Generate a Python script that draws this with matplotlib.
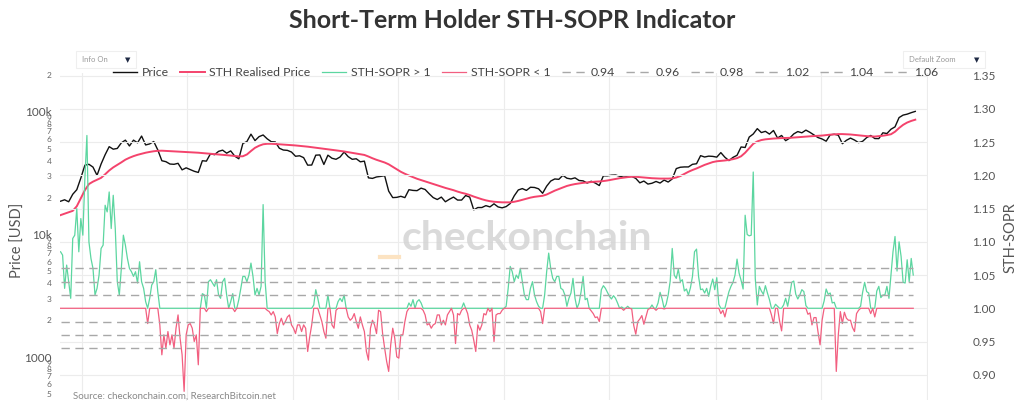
import numpy as np
import pandas as pd
import matplotlib
matplotlib.use("Agg")
import matplotlib.pyplot as plt
import matplotlib.dates as mdates
import matplotlib.ticker as mticker
from matplotlib.lines import Line2D
from matplotlib.patches import Rectangle

plt.rcParams["font.family"] = ["Lato", "DejaVu Sans"]

# weekly BTC price (thousand USD), from 2020-11-25
price_k = [
    18.7, 19.2, 18.5, 21.3, 23.2, 28.9,
    36.8, 37.4, 35.5, 30.4, 37.6, 44.8, 52.1, 49.7, 50.4, 56.0, 58.9, 52.8, 58.9,
    56.0, 63.6, 53.8, 54.9, 57.4, 49.0, 40.0, 39.3, 37.6, 37.4, 38.1, 33.7, 35.0,
    33.9, 32.8, 32.1, 40.0, 39.7, 45.6, 44.8, 47.7, 48.8, 46.1, 48.1, 43.6, 41.5,
    55.3, 57.4, 65.9, 58.4, 62.9, 64.9, 60.4, 57.2, 57.0, 50.6, 48.9, 48.6, 47.1,
    43.5, 43.9, 42.4, 36.8, 36.9, 44.4, 44.6, 37.3, 44.4, 41.9, 41.1, 42.9, 47.1,
    43.2, 41.1, 41.5, 39.2, 39.7, 29.0, 28.7, 29.5, 29.8, 30.2, 22.6, 20.0, 20.1,
    20.5, 20.0, 23.2, 22.9, 22.8, 23.9, 23.3, 21.5, 20.0, 19.3, 20.2, 18.5, 19.4,
    20.2, 19.1, 19.1, 20.8, 20.2, 15.9, 16.6, 16.6, 17.2, 16.8, 17.8, 16.8, 16.5,
    16.9, 17.9, 20.7, 23.1, 23.7, 22.9, 24.3, 24.2, 23.6, 21.7, 24.8, 27.3, 28.4,
    28.2, 30.4, 28.8, 28.4, 29.0, 27.6, 27.4, 26.3, 27.2, 26.3, 25.1, 30.1, 30.1,
    30.5, 30.6, 29.9, 29.4, 29.7, 29.8, 28.7, 26.4, 27.3, 25.8, 26.2, 27.1, 26.3,
    27.8, 26.8, 28.4, 34.5, 35.4, 35.6, 35.6, 37.4, 37.8, 44.0, 42.9, 43.6, 43.4,
    42.8, 46.6, 42.7, 40.1, 42.6, 44.3, 51.8, 51.3, 62.4, 66.1, 73.1, 67.9, 69.5,
    66.0, 70.6, 61.3, 64.3, 58.3, 61.2, 66.2, 69.2, 67.6, 71.1, 68.2, 65.0, 61.8,
    60.2, 57.7, 65.1, 65.8, 64.6, 55.1, 58.7, 61.2, 59.0, 56.2, 57.6, 61.8, 64.3,
    60.7, 60.6, 67.6, 66.7, 72.3, 75.6, 90.0, 94.3, 96.0, 98.7, 101.1,
]

# weekly STH realised price (thousand USD)
realised_k = [
    14.4, 14.8, 15.2, 15.6, 17.0, 19.8,
    23.0, 25.8, 27.0, 28.0, 29.0, 31.0, 33.3, 35.3, 37.0, 38.8, 40.8, 42.3, 43.6,
    44.7, 45.6, 46.5, 47.2, 47.8, 48.2, 48.3, 48.1, 47.9, 47.7, 47.5, 47.3, 47.1,
    46.9, 46.7, 46.5, 46.2, 45.9, 45.6, 45.3, 45.0, 44.7, 44.4, 44.1, 43.7, 43.4,
    43.5, 45.0, 48.0, 51.0, 53.0, 54.5, 55.0, 55.0, 54.8, 54.5, 54.2, 53.9, 53.6,
    53.3, 52.9, 52.5, 52.1, 51.6, 51.1, 50.6, 50.1, 49.6, 49.1, 48.6, 48.1, 47.6,
    47.0, 46.4, 45.8, 45.2, 44.6, 43.3, 41.9, 40.7, 39.7, 38.7, 37.4, 35.7, 34.0,
    32.5, 31.3, 30.3, 29.4, 28.5, 27.8, 27.1, 26.4, 25.8, 25.2, 24.6, 24.0, 23.5,
    23.0, 22.4, 21.9, 21.5, 21.0, 20.4, 19.9, 19.4, 19.0, 18.7, 18.5, 18.4, 18.3,
    18.3, 18.3, 18.5, 18.8, 19.2, 19.6, 20.0, 20.3, 20.5, 20.7, 21.2, 22.0, 22.8,
    23.5, 24.2, 24.9, 25.4, 25.8, 26.1, 26.4, 26.6, 26.8, 27.0, 27.1, 27.3, 27.6,
    28.0, 28.4, 28.8, 29.1, 29.4, 29.6, 29.6, 29.4, 29.2, 29.0, 28.8, 28.7, 28.6,
    28.6, 28.6, 28.7, 29.2, 30.0, 31.2, 32.5, 33.6, 34.6, 35.8, 37.0, 38.0, 39.0,
    39.6, 39.9, 40.2, 40.6, 41.2, 42.0, 43.5, 46.5, 50.5, 55.0, 57.5, 59.0, 59.8,
    60.3, 60.7, 61.0, 61.2, 61.3, 61.5, 61.8, 62.2, 62.6, 63.0, 63.3, 63.6, 63.8,
    64.2, 64.8, 65.3, 65.7, 66.0, 66.0, 65.8, 65.5, 65.0, 64.5, 64.0, 63.5, 63.2,
    63.0, 63.5, 64.0, 64.8, 65.8, 69.0, 74.0, 78.5, 82.0, 84.5, 86.5,
]

# STH-SOPR, every 3.5 days from 2020-11-25
sopr_vals = [
    1.085, 1.080, 1.030, 1.065, 1.040, 1.015, 1.105, 1.110, 1.150, 1.085,
    1.135, 1.110, 1.196, 1.260, 1.100, 1.075, 1.060, 1.020, 1.030, 1.050,
    1.090, 1.095, 1.155, 1.145, 1.175, 1.120, 1.170, 1.120, 1.040, 1.020,
    1.060, 1.110, 1.095, 1.075, 1.060, 1.055, 1.048, 1.055, 1.038, 1.070,
    1.040, 1.030, 1.010, 0.977, 1.015, 1.035, 1.040, 1.058, 1.025, 0.975,
    0.930, 0.960, 0.940, 0.965, 0.945, 0.960, 0.940, 0.970, 0.990, 0.955,
    0.930, 0.875, 0.960, 0.975, 0.977, 0.970, 0.950, 0.960, 0.915, 1.000,
    1.022, 1.020, 0.995, 1.040, 1.043, 1.038, 1.033, 1.043, 1.020, 1.015,
    1.040, 1.045, 1.020, 1.000, 1.010, 1.022,
    0.995, 1.000, 1.013, 1.030, 1.048, 1.048, 1.040, 1.050, 1.068, 1.048,
    1.020, 1.030, 1.020, 1.033, 1.156, 1.040, 0.997, 0.995, 0.990, 0.995,
    0.987, 0.962, 0.977, 0.985, 0.975, 0.980, 0.987, 0.990, 0.975, 0.970,
    0.962, 0.975, 0.975, 0.965, 0.975, 0.970, 0.935, 0.957, 0.975, 1.005,
    1.028, 1.015, 0.990, 0.980, 0.965, 0.955, 1.020, 1.000, 0.975, 0.970,
    0.997, 1.010, 1.015, 1.010, 1.020, 1.000, 0.987, 0.982, 0.985, 0.992,
    0.980, 0.970, 0.987, 0.975, 0.965, 0.935, 0.922, 0.970, 0.982, 0.975,
    0.962, 0.997, 0.995, 0.962, 0.940, 0.920, 0.905, 0.945, 0.970, 0.955,
    0.927, 0.925, 0.960,
    0.960, 0.980, 0.995, 1.008, 1.003, 1.013, 1.000, 1.010, 1.013, 1.008,
    0.997, 0.990, 0.975, 0.977, 0.970, 0.975, 0.977, 0.990, 0.990, 0.975,
    0.982, 0.975, 0.990, 0.995, 1.000, 0.990, 0.947, 0.992, 0.990, 0.997,
    1.008, 1.000, 0.992, 0.975, 0.967, 0.952, 0.935, 0.975, 0.967, 0.975,
    0.992, 0.990, 1.000, 0.995, 1.000, 0.950, 0.990, 0.992, 0.992, 0.997,
    1.000, 1.003, 1.030, 1.063, 1.055, 1.040, 1.050, 1.045, 1.060, 1.040,
    1.020, 1.013, 1.013, 1.030, 1.040, 1.020, 1.010, 1.003, 0.995, 0.977,
    1.020, 1.055, 1.083, 1.060, 1.045, 1.040, 1.048, 1.048, 1.030, 1.028,
    1.020, 1.003, 1.015,
    1.023, 1.045, 1.015, 1.000, 1.008, 1.025, 1.048, 1.013, 1.015, 1.000,
    0.996, 0.992, 0.986, 0.987, 0.980, 1.028, 1.034, 1.030, 1.024, 1.018,
    1.014, 1.019, 1.015, 1.008, 1.000, 1.002, 0.997, 1.000, 1.003, 1.000,
    0.999, 0.974, 0.961, 0.980, 0.984, 0.989, 0.976, 0.987, 0.998, 1.000,
    1.005, 1.000, 0.997, 1.008, 1.024, 1.014, 0.999, 1.006, 1.020, 1.041,
    1.090, 1.050, 1.045, 1.059, 1.040, 1.043, 1.026, 1.029, 1.020, 1.031,
    1.048, 1.085, 1.089, 1.048, 1.028, 1.029, 1.023, 1.030, 1.018, 1.033,
    1.044, 1.028, 1.046, 1.006, 0.992, 0.997, 0.987, 1.013, 1.025, 1.033,
    1.039, 1.050, 1.074, 1.053,
    1.042, 1.029, 1.140, 1.111, 1.109, 1.110, 1.205, 1.045, 1.005, 1.033,
    1.026, 1.021, 1.034, 1.023, 1.013, 0.990, 0.977, 1.006, 1.003, 0.981,
    0.966, 1.005, 1.015, 1.003, 1.020, 1.039, 1.041, 1.021, 1.014, 1.020,
    1.028, 1.025, 1.004, 0.991, 0.993, 0.975, 0.986, 0.986, 0.964, 0.945,
    0.982, 1.011, 1.029, 1.021, 1.023, 1.008, 1.009, 0.905, 0.960, 0.995,
    0.977, 0.994, 0.985, 0.982, 0.982, 0.971, 0.965, 0.992, 0.997, 1.003,
    1.024, 1.039, 1.025, 1.023, 0.992, 1.000, 0.987, 1.026, 1.033, 1.016,
    1.020, 1.020, 1.033, 1.015, 1.050, 1.085, 1.108, 1.056, 1.100, 1.078,
    1.039, 1.038, 1.073, 1.040, 1.075, 1.050,
]

band_levels = [0.94, 0.96, 0.98, 1.02, 1.04, 1.06]

weeks = pd.date_range("2020-11-25", periods=len(price_k), freq="7D")
sopr_days = pd.date_range("2020-11-25", periods=len(sopr_vals), freq="84h")

price = np.array(price_k) * 1000
realised = np.array(realised_k) * 1000
sopr = np.array(sopr_vals)
sopr_up = np.maximum(sopr, 1.0)
sopr_down = np.minimum(sopr, 1.0)

fig = plt.figure(figsize=(10.24, 4.08), dpi=100)
ax = fig.add_axes([60 / 1024, 8 / 408, 868 / 1024, 327 / 408])
ax2 = ax.twinx()

ax.plot(weeks, price, color="#111111", lw=1.0, label="Price")
ax.plot(weeks, realised, color="#f4436c", lw=1.4, label="STH Realised Price")
ax2.plot(sopr_days, sopr_up, color="#5cd6a0", lw=0.9, label="STH-SOPR > 1")
ax2.plot(sopr_days, sopr_down, color="#f25f80", lw=0.9, label="STH-SOPR < 1")
for lvl in band_levels:
    ax2.hlines(lvl, sopr_days[0], sopr_days[-1], color="#a8a8a8", lw=1.0,
               linestyles=(0, (6, 4)), label=f"{lvl:.2f}")

# left axis: log price
ax.set_yscale("log")
ax.set_ylim(446, 208000)
ax.yaxis.set_major_locator(mticker.LogLocator(base=10, numticks=10))
ax.yaxis.set_minor_locator(mticker.LogLocator(base=10, subs=np.arange(2, 10), numticks=20))
ax.yaxis.set_major_formatter(mticker.FuncFormatter(
    lambda v, p: f"{int(round(v / 1000))}k" if v >= 10000 else f"{int(round(v))}"))
ax.yaxis.set_minor_formatter(mticker.FuncFormatter(
    lambda v, p: f"{int(round(v / 10 ** np.floor(np.log10(v) + 1e-9)))}"))
ax.tick_params(axis="y", which="major", labelsize=8.5, length=0, pad=6, labelcolor="#555555")
ax.tick_params(axis="y", which="minor", labelsize=6, length=0, pad=6, labelcolor="#666666")

ax.set_xlim(pd.Timestamp("2020-11-24"), pd.Timestamp("2025-01-02"))
ax.xaxis.set_major_locator(mdates.MonthLocator(bymonth=[1, 7]))
ax.tick_params(axis="x", labelbottom=False, length=0)
ax.grid(axis="x", color="#ececec", lw=0.8)

# right axis: SOPR
ax2.set_ylim(0.862, 1.354)
ax2.yaxis.set_major_locator(mticker.MultipleLocator(0.05))
ax2.yaxis.set_major_formatter(mticker.FormatStrFormatter("%.2f"))
ax2.tick_params(axis="y", labelsize=8.5, length=0, pad=32, labelcolor="#555555")
ax2.grid(axis="y", color="#ececec", lw=0.8)
ax2.set_axisbelow(True)

for a in (ax, ax2):
    for s in a.spines.values():
        s.set_visible(False)

# legend
h1, lab1 = ax.get_legend_handles_labels()
h2, lab2 = ax2.get_legend_handles_labels()
fig.legend(h1 + h2, lab1 + lab2, loc="center", bbox_to_anchor=(0.513, 1 - 73 / 408),
           ncol=10, frameon=False, fontsize=8.8, handlelength=2.0, columnspacing=0.9,
           handletextpad=0.4, labelcolor="#444444")

# texts
fig.text(0.5, 1 - 20 / 408, "Short-Term Holder STH-SOPR Indicator", ha="center", va="center",
         fontsize=18, fontweight="bold", color="#333333")
fig.text(18 / 1024, 1 - 240 / 408, "Price [USD]", rotation=90, ha="center", va="center",
         fontsize=10.5, color="#555555")
fig.text(1011 / 1024, 1 - 238 / 408, "STH-SOPR", rotation=90, ha="center", va="center",
         fontsize=10.5, color="#555555")
fig.text(527 / 1024, 1 - 238 / 408, "checkonchain", ha="center", va="center",
         fontsize=29.5, fontweight="bold", color="#d4d4d4", alpha=0.85)
fig.add_artist(Line2D([380 / 1024, 399 / 1024], [1 - 257 / 408] * 2, color="#fce3c2", lw=3,
                      transform=fig.transFigure))
fig.text(73 / 1024, 1 - 396 / 408, "Source: checkonchain.com, ResearchBitcoin.net",
         va="center", fontsize=7, color="#888888")

# menu boxes
for x0, w, label in [(76, 60, "Info On"), (903, 82, "Default Zoom")]:
    fig.add_artist(Rectangle((x0 / 1024, 1 - 68 / 408), w / 1024, 17 / 408, fill=False,
                             edgecolor="#efefef", lw=0.8, transform=fig.transFigure))
    fig.text((x0 + 6) / 1024, 1 - 60 / 408, label, va="center", fontsize=5.5, color="#999999")
    fig.text((x0 + w - 8) / 1024, 1 - 60 / 408, "\u25BC", va="center", ha="center",
             fontsize=5, color="#1f2a44")

fig.savefig("out.png", dpi=100)
